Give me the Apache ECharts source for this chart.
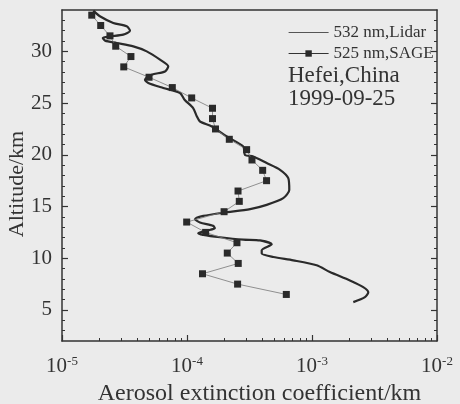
<!DOCTYPE html>
<html><head><meta charset="utf-8">
<script src="https://cdn.jsdelivr.net/npm/echarts@6/dist/echarts.min.js"></script>
<style>html,body{margin:0;padding:0;background:#ebebeb;}#c{width:460px;height:404px;}</style>
</head><body><div id="c"></div>
<script>
// Lidar 532 nm profile (altitude km, extinction /km)
const lidarAlt = [33.94,33.39,32.75,32.42,32.0,31.62,31.45,31.3,31.04,30.81,30.48,30.0,29.2,28.55,28.06,27.74,27.26,26.94,26.46,25.97,25.3,24.52,23.71,23.22,22.74,21.77,20.8,19.99,19.84,19.2,18.55,17.74,16.61,15.81,15.16,14.75,14.41,14.09,13.78,13.45,13.13,12.9,12.67,12.42,12.26,12.03,11.8,11.72,11.35,10.77,10.45,10.12,9.8,9.32,8.67,7.86,7.21,6.72,6.24,5.76];
const lidarExt = [1.78e-5,2.01e-5,2.57e-5,3.29e-5,3.5e-5,3.09e-5,2.42e-5,2.12e-5,2.21e-5,2.74e-5,3.72e-5,4.76e-5,6.08e-5,7.08e-5,6.67e-5,5.22e-5,4.61e-5,4.9e-5,6.46e-5,8.79e-5,9.6e-5,1.12e-4,1.2e-4,1.27e-4,1.58e-4,2.08e-4,2.82e-4,2.91e-4,3.39e-4,4.34e-4,5.55e-4,6.46e-4,6.58e-4,5.89e-4,4.34e-4,3.2e-4,1.95e-4,1.35e-4,1.16e-4,1.27e-4,1.62e-4,1.67e-4,1.44e-4,1.23e-4,1.35e-4,1.84e-4,2.82e-4,3.84e-4,4.76e-4,3.96e-4,3.96e-4,4.9e-4,7.08e-4,1.09e-3,1.39e-3,2.01e-3,2.57e-3,2.82e-3,2.65e-3,2.14e-3];
// SAGE 525 nm profile
const sageAlt = [33.5,32.5,31.5,30.5,29.5,28.5,27.5,26.5,25.5,24.5,23.5,22.5,21.5,20.5,19.5,18.5,17.5,16.5,15.5,14.5,13.5,12.5,11.5,10.5,9.5,8.5,7.5,6.5];
const sageExt = [1.73e-5,2.04e-5,2.42e-5,2.69e-5,3.56e-5,3.12e-5,4.97e-5,7.63e-5,1.09e-4,1.6e-4,1.6e-4,1.69e-4,2.18e-4,3.0e-4,3.31e-4,4.03e-4,4.33e-4,2.56e-4,2.62e-4,1.98e-4,9.94e-5,1.41e-4,2.51e-4,2.1e-4,2.57e-4,1.33e-4,2.54e-4,6.23e-4];
// Axis ticks
const xMajorTicks = [1e-5,1e-4,1e-3,1e-2];
const xMinorTicks = [];
[-5,-4,-3].forEach(function(d){ for (let k=2;k<=9;k++) xMinorTicks.push(k*Math.pow(10,d)); });
const yMajorTicks = [5,10,15,20,25,30];
const yMinorTicks = [3,4,6,7,8,9,11,12,13,14,16,17,18,19,21,22,23,24,26,27,28,29,31,32,33];

const serif = 'Liberation Serif';
const ink = '#333333';
const chart = echarts.init(document.getElementById('c'), null, {renderer:'canvas'});
const lidarData = lidarAlt.map((a,i)=>[lidarExt[i], a]);
const sageData = sageAlt.map((a,i)=>[sageExt[i], a]);

const xBase = {type:'log', min:1e-5, max:1e-2, logBase:10, splitLine:{show:false}};
const yBase = {type:'value', min:2, max:34, splitLine:{show:false}};
chart.setOption({
  backgroundColor:'#ebebeb',
  animation:false,
  grid:{left:62, right:23, top:10, bottom:63, containLabel:false, outerBoundsMode:'none'},
  legend:{
    orient:'vertical', left:283, top:19, itemWidth:40, itemHeight:8, itemGap:4,
    textStyle:{fontFamily:serif, fontSize:17, color:ink},
    data:[{name:'532 nm,Lidar', lineStyle:{width:1, color:'#555'}, itemStyle:{opacity:0}},{name:'525 nm,SAGE', lineStyle:{width:1.2, color:'#333'}}]
  },
  graphic:[
    {type:'text', left:288, top:64, style:{text:'Hefei,China', font:'23px "Liberation Serif"', fill:ink}},
    {type:'text', left:288, top:87, style:{text:'1999-09-25', font:'23px "Liberation Serif"', fill:ink}},
    {type:'text', x:17, y:184, rotation:Math.PI/2, style:{text:'Altitude/km', font:'22px "Liberation Serif"', fill:ink, align:'center', verticalAlign:'middle'}}
  ],
  xAxis:[
    Object.assign({}, xBase, {position:'bottom',
      axisLine:{lineStyle:{color:ink, width:1.5}},
      axisTick:{inside:true, length:6, customValues:xMajorTicks, lineStyle:{color:ink, width:1.2}},
      axisLabel:{customValues:xMajorTicks, margin:14, fontFamily:serif, fontSize:21, color:ink,
        formatter:function(v){ return '10{sup|' + Math.round(Math.log10(v)) + '}'; },
        rich:{sup:{fontFamily:serif, fontSize:13, color:ink, verticalAlign:'bottom', padding:[0,0,10,0]}}},
      name:'Aerosol extinction coefficient/km', nameLocation:'middle', nameGap:40,
      nameTextStyle:{fontFamily:serif, fontSize:24, color:ink, padding:[0,0,0,20]}}),
    Object.assign({}, xBase, {position:'bottom', axisLine:{show:false}, axisLabel:{show:false},
      axisTick:{inside:true, length:3, customValues:xMinorTicks, lineStyle:{color:ink, width:1}}}),
    Object.assign({}, xBase, {position:'top', axisLine:{lineStyle:{color:ink, width:1.5}}, axisLabel:{show:false}, axisTick:{show:false}})
  ],
  yAxis:[
    Object.assign({}, yBase, {position:'left',
      axisLine:{lineStyle:{color:ink, width:1.5}},
      axisTick:{inside:true, length:6, customValues:yMajorTicks, lineStyle:{color:ink, width:1.2}},
      axisLabel:{customValues:yMajorTicks, margin:10, fontFamily:serif, fontSize:21, color:ink}}),
    Object.assign({}, yBase, {position:'left', axisLine:{show:false}, axisLabel:{show:false},
      axisTick:{inside:true, length:3, customValues:yMinorTicks, lineStyle:{color:ink, width:1}}}),
    Object.assign({}, yBase, {position:'right', axisLine:{lineStyle:{color:ink, width:1.5}}, axisLabel:{show:false},
      axisTick:{inside:true, length:6, customValues:yMajorTicks, lineStyle:{color:ink, width:1.2}}}),
    Object.assign({}, yBase, {position:'right', axisLine:{show:false}, axisLabel:{show:false},
      axisTick:{inside:true, length:3, customValues:yMinorTicks, lineStyle:{color:ink, width:1}}})
  ],
  series:[
    {name:'532 nm,Lidar', type:'line', xAxisIndex:0, yAxisIndex:0, data:lidarData, showSymbol:false, symbol:'none',
     smooth:0.25, lineStyle:{color:'#2a2a2a', width:2.2}, itemStyle:{color:'#2a2a2a'}},
    {name:'525 nm,SAGE', type:'line', xAxisIndex:0, yAxisIndex:0, data:sageData, symbol:'rect', symbolSize:7,
     lineStyle:{color:'#777777', width:0.8}, itemStyle:{color:'#2a2a2a'}}
  ]
});
</script></body></html>
